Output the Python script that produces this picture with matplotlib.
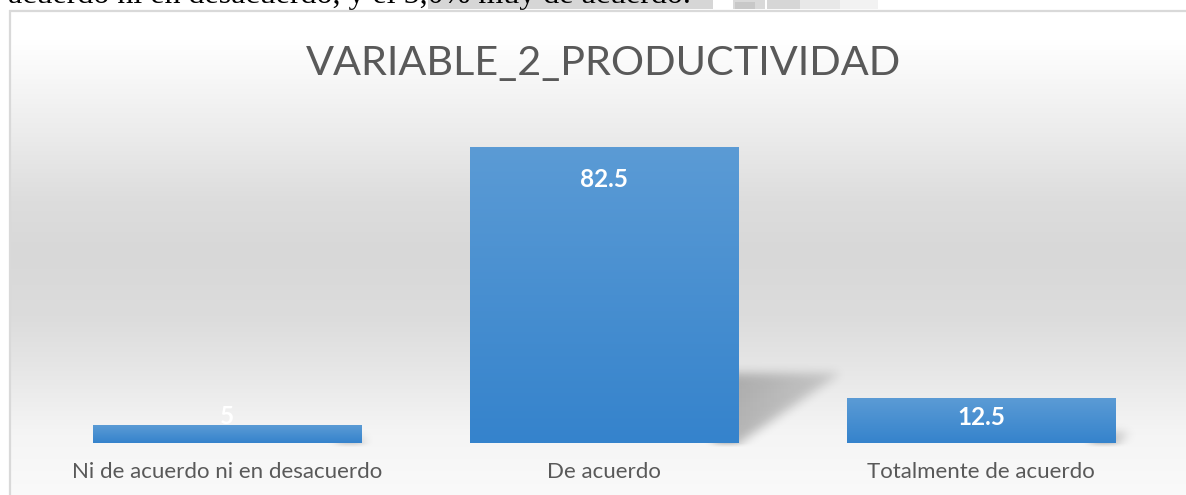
import numpy as np
import matplotlib
matplotlib.use("Agg")
import matplotlib.pyplot as plt
from matplotlib.patches import Rectangle

# ---------------- data ----------------
categories = ["Ni de acuerdo ni en desacuerdo", "De acuerdo", "Totalmente de acuerdo"]
values = [5, 82.5, 12.5]
value_labels = ["5", "82.5", "12.5"]
title = "VARIABLE_2_PRODUCTIVIDAD"
top_text = "acuerdo ni en desacuerdo, y el 5,0% muy de acuerdo."

# ---------------- styles ----------------
W, H = 1186, 495
FONT = "Lato"
GRAY_TXT = "#595959"
BAR_TOP = np.array([91, 155, 213]) / 255.0
BAR_BOT = np.array([53, 131, 204]) / 255.0
label_baseline_offsets_px = [1, -39, -27]

fig = plt.figure(figsize=(W / 100, H / 100), dpi=100)
fig.patch.set_facecolor("white")

# background layer (pixel coordinates, y downward)
bg = fig.add_axes([0, 0, 1, 1], zorder=0)
bg.set_xlim(0, W)
bg.set_ylim(H, 0)
bg.axis("off")

stops_y = [10, 40, 133, 200, 253, 317, 367, 433, 495]
stops_v = [1.0, 1.0, 0.925, 0.867, 0.847, 0.863, 0.902, 0.96, 0.98]
ys = np.arange(10, 496)
g = np.interp(ys, stops_y, stops_v)
grad = np.repeat(g[:, None], 2, axis=1)
bg.imshow(np.dstack([grad, grad, grad]), extent=[9, W, H, 10], aspect="auto",
          interpolation="bilinear", zorder=0)

# cropped page fragments at the top
for (x0, x1, c) in [(428, 713, "#d6d6d6"), (733, 765, "#d9d9d9"), (767, 800, "#d6d6d6"),
                    (800, 840, "#e8e8e8"), (840, 878, "#f2f2f2")]:
    bg.add_patch(Rectangle((x0, 0), x1 - x0, 9, facecolor=c, edgecolor="none", zorder=1))
bg.add_patch(Rectangle((735, 2), 20, 7, facecolor="#c8c8c8", edgecolor="none", zorder=1))
bg.text(8, 3.5, top_text, fontfamily="Liberation Serif", fontsize=23, va="baseline",
        ha="left", color="black", zorder=2)

# chart border
bg.plot([9, W], [10.5, 10.5], color="#d9d9d9", lw=1.6, zorder=3, solid_capstyle="butt")
bg.plot([9.5, 9.5], [10, H], color="#d9d9d9", lw=1.6, zorder=3, solid_capstyle="butt")

# title
bg.text(603, 75, title, fontfamily=FONT, fontsize=29.8, color=GRAY_TXT,
        ha="center", va="baseline", zorder=3)

# ---------------- main axes ----------------
ax_left, ax_right, ax_bottom, ax_top = 38.5, 1169.5, 443, 121
ax = fig.add_axes([ax_left / W, 1 - ax_bottom / H, (ax_right - ax_left) / W,
                   (ax_bottom - ax_top) / H], zorder=1)
ax.set_facecolor("none")
ax.set_xlim(-0.5, 2.5)
ax.set_ylim(0, 90)
x = np.arange(len(categories))
bars = ax.bar(x, values, width=0.711, color=tuple(BAR_BOT), zorder=2)

# gradient fill for each bar
ramp = np.linspace(0, 1, 256)[:, None]
cols = BAR_TOP[None, None, :] * (1 - ramp[..., None]) + BAR_BOT[None, None, :] * ramp[..., None]
cols = np.repeat(cols, 2, axis=1)
for b in bars:
    bx, bw, bh = b.get_x(), b.get_width(), b.get_height()
    ax.imshow(cols, extent=[bx, bx + bw, 0, bh], aspect="auto", origin="upper",
              interpolation="bilinear", zorder=3)

# soft perspective shadows behind bars (computed from bar geometry in pixels)
yy, xx = np.mgrid[0:H, 0:W].astype(float)
mask = np.zeros((H, W))
for b in bars:
    xr_d, yb_d = ax.transData.transform((b.get_x() + b.get_width(), 0))
    _, yt_d = ax.transData.transform((0, b.get_height()))
    xr, yb = xr_d, H - yb_d
    bh_px = yt_d - yb_d
    sh = 0.24 * bh_px
    dx = 1.45 * sh
    if sh < 1:
        continue
    frac = np.clip((yb - yy) / sh, 0, None)
    inside = (xx >= xr - 25) & (yy <= yb + 2) & (yy >= yb - sh) & (xx <= xr + dx * frac)
    w = 1 - 0.45 * np.clip((xx - xr) / dx, 0, 1)
    mask = np.maximum(mask, inside * w)


def blur(a, sigma):
    r = int(3 * sigma)
    k = np.exp(-0.5 * (np.arange(-r, r + 1) / sigma) ** 2)
    k /= k.sum()
    a = np.apply_along_axis(lambda v: np.convolve(v, k, mode="same"), 1, a)
    a = np.apply_along_axis(lambda v: np.convolve(v, k, mode="same"), 0, a)
    return a


mb = blur(mask, 5.0)
# keep the shadow from spilling below the baseline
base_y = H - ax.transData.transform((0, 0))[1]
mb *= np.clip(1 - (yy - base_y) / 4.0, 0, 1)
shadow = np.zeros((H, W, 4))
shadow[..., 3] = 0.26 * mb
bg.imshow(shadow, extent=[0, W, H, 0], aspect="auto", interpolation="bilinear", zorder=2)

# data labels
for b, lab, off in zip(bars, value_labels, label_baseline_offsets_px):
    ax.annotate(lab, (b.get_x() + b.get_width() / 2, b.get_height()),
                xytext=(0, off), textcoords="offset pixels", ha="center", va="baseline",
                fontfamily=FONT, fontsize=17.5, fontweight="bold", color="white", zorder=5)

ax.set_xticks(x, categories)
ax.tick_params(axis="x", length=0, pad=14, labelsize=16, labelcolor=GRAY_TXT)
for t in ax.get_xticklabels():
    t.set_fontfamily(FONT)
ax.set_yticks([])
for sp in ax.spines.values():
    sp.set_visible(False)

fig.savefig("out.png", dpi=100, facecolor="white")
